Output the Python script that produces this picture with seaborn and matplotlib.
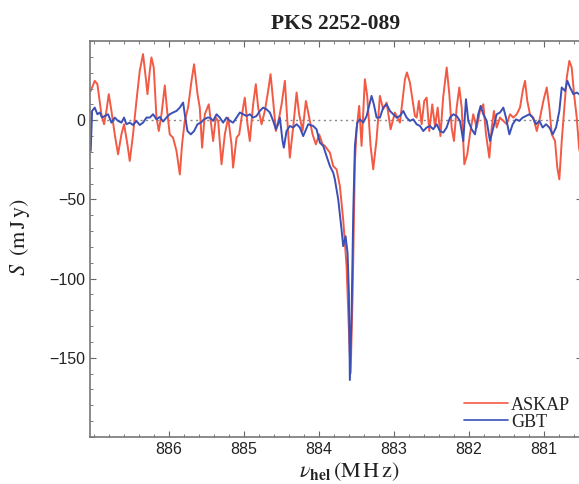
import numpy as np
import pandas as pd
import seaborn as sns
import matplotlib.pyplot as plt
from matplotlib.ticker import MultipleLocator

# --- data (frequency in MHz, flux in mJy) ---
askap_freq = [887.040, 886.987, 886.951, 886.898, 886.862, 886.831, 886.800, 886.764, 886.720, 886.676,
              886.631, 886.596, 886.551, 886.520, 886.476, 886.431, 886.387, 886.343, 886.307, 886.284,
              886.253, 886.231, 886.200, 886.164, 886.133, 886.097, 886.053, 886.020, 885.987, 885.943,
              885.897, 885.853, 885.823, 885.787, 885.743, 885.697, 885.663, 885.617, 885.587, 885.556,
              885.520, 885.467, 885.409, 885.373, 885.342, 885.297, 885.253, 885.209, 885.164, 885.143,
              885.097, 885.062, 885.017, 884.987, 884.951, 884.920, 884.876, 884.840, 884.809, 884.764,
              884.720, 884.676, 884.644, 884.609, 884.573, 884.529, 884.497, 884.453, 884.423, 884.387,
              884.343, 884.297, 884.263, 884.217, 884.173, 884.129, 884.084, 884.040, 883.996, 883.951,
              883.920, 883.853, 883.809, 883.764, 883.720, 883.676, 883.631, 883.600, 883.577, 883.551,
              883.520, 883.497, 883.463, 883.431, 883.387, 883.356, 883.311, 883.276, 883.231, 883.187,
              883.143, 883.097, 883.044, 882.987, 882.920, 882.853, 882.827, 882.787, 882.720, 882.697,
              882.667, 882.631, 882.596, 882.564, 882.529, 882.489, 882.453, 882.417, 882.380, 882.345,
              882.297, 882.262, 882.231, 882.200, 882.164, 882.129, 882.097, 882.062, 882.023, 881.987,
              881.943, 881.897, 881.853, 881.809, 881.773, 881.729, 881.697, 881.667, 881.631, 881.587,
              881.543, 881.497, 881.453, 881.409, 881.364, 881.320, 881.284, 881.253, 881.223, 881.187,
              881.143, 881.097, 881.053, 881.009, 880.964, 880.929, 880.897, 880.853, 880.823, 880.796,
              880.764, 880.733, 880.697, 880.663, 880.631, 880.600, 880.564, 880.533, 880.500]
askap_flux = [18.5, 24.9, 22.8, 3.8, -2.5, 5.9, 16.5, 5.9, -8.9, -21.5,
              -8.9, -2.5, -15.2, -25.7, -8.9, 12.2, 31.2, 41.8, 27.0, 16.5,
              31.2, 39.7, 33.3, 1.7, -6.8, 3.8, 22.0, 5.0, -8.9, -11.0,
              -19.4, -34.2, -15.2, -0.4, 8.0, 24.9, 35.4, 16.5, 8.0, -17.3,
              3.8, 10.1, -13.1, 1.7, -0.4, -27.8, -8.9, 1.7, -15.2, -29.9,
              -11.0, -8.9, 5.9, 14.3, -2.5, -13.1, 10.1, 22.8, 8.0, -2.5,
              5.9, 18.5, 29.1, 12.2, -6.8, 1.7, 10.1, 24.9, 1.7, -23.6,
              -4.6, 17.5, 3.8, -6.8, 12.2, 1.7, -8.9, -15.2, -8.9, -15.2,
              -16.2, -20.5, -28.9, -31.0, -41.6, -62.7, -92.2, -132.3, -159.7, -111.2,
              -26.8, -5.7, 9.1, -16.2, 25.9, 15.4, -16.2, -31.0, -12.0, 15.4,
              7.0, 11.2, -5.7, 4.9, -1.5, 25.9, 30.2, 23.8, 2.7, 1.7,
              12.2, -2.5, 12.2, 14.3, -6.8, 10.0, -4.0, 8.0, -10.0, 14.0,
              33.3, 16.5, -4.6, -13.1, 8.0, 20.7, 8.0, -27.8, -21.5, -8.9,
              3.8, -4.6, 5.9, 10.1, -8.9, -23.6, -4.6, 5.9, -4.6, 1.7,
              -0.4, -2.5, 3.8, 1.7, 3.8, 8.0, 18.5, 24.9, 12.2, 3.8,
              1.7, -6.8, 1.7, 12.2, 20.7, 8.0, -8.9, -13.1, -29.9, -37.3,
              -13.1, 5.9, 27.0, 37.5, 33.3, 16.5, 1.7, -17.3, -26.0]

gbt_freq = [887.040, 887.022, 886.987, 886.951, 886.920, 886.889, 886.853, 886.809, 886.764, 886.720,
            886.676, 886.631, 886.596, 886.564, 886.520, 886.476, 886.431, 886.387, 886.343, 886.297,
            886.253, 886.209, 886.164, 886.120, 886.076, 886.031, 885.987, 885.943, 885.897, 885.853,
            885.809, 885.787, 885.751, 885.707, 885.663, 885.617, 885.573, 885.529, 885.484, 885.453,
            885.409, 885.364, 885.320, 885.276, 885.231, 885.187, 885.143, 885.097, 885.053, 885.009,
            884.964, 884.920, 884.876, 884.831, 884.787, 884.743, 884.697, 884.653, 884.609, 884.573,
            884.543, 884.520, 884.484, 884.467, 884.431, 884.387, 884.343, 884.297, 884.253, 884.209,
            884.142, 884.076, 884.031, 883.987, 883.942, 883.898, 883.853, 883.809, 883.787, 883.742,
            883.698, 883.676, 883.644, 883.618, 883.600, 883.587, 883.564, 883.542, 883.520, 883.489,
            883.453, 883.409, 883.364, 883.320, 883.298, 883.267, 883.231, 883.187, 883.143, 883.098,
            883.053, 883.009, 882.964, 882.920, 882.876, 882.831, 882.787, 882.742, 882.698, 882.653,
            882.609, 882.564, 882.520, 882.476, 882.431, 882.387, 882.342, 882.298, 882.253, 882.209,
            882.164, 882.120, 882.076, 882.040, 882.009, 881.964, 881.920, 881.876, 881.844, 881.809,
            881.764, 881.720, 881.676, 881.631, 881.587, 881.542, 881.507, 881.462, 881.418, 881.373,
            881.329, 881.284, 881.240, 881.196, 881.151, 881.107, 881.062, 881.018, 880.973, 880.929,
            880.884, 880.840, 880.796, 880.764, 880.720, 880.689, 880.653, 880.609, 880.564, 880.533,
            880.500]
gbt_flux = [-19.4, 5.9, 8.0, 3.8, 4.9, 1.7, 2.7, 3.8, -1.5, 1.7,
            -0.4, -1.5, 1.7, -2.5, -1.5, -3.0, -0.4, -3.0, -1.5, 1.7,
            1.7, 3.8, 0.6, 2.1, -0.8, 1.7, 3.8, 4.9, 5.9, 8.0,
            11.2, 3.8, -6.8, -8.9, -6.8, -2.5, -1.5, 0.6, 1.7, 1.7,
            -0.4, 3.8, 1.7, -1.5, 1.7, -0.4, -1.5, 1.7, 4.9, 3.8,
            2.7, 3.8, 1.7, 2.7, 5.9, 8.0, 6.9, 4.9, -0.4, -5.7,
            -2.5, 1.7, -13.1, -17.3, -6.8, -3.6, -4.6, -2.5, -4.6, -10.0,
            -2.5, -3.6, -5.7, -14.1, -16.2, -22.6, -28.9, -33.1, -37.3, -50.0,
            -69.0, -79.5, -73.2, -83.7, -109.1, -164.0, -121.7, -58.4, -16.2, -1.5,
            0.6, -1.5, 2.7, 11.2, 15.4, 10.0, 1.7, 1.7, 8.0, 10.1,
            5.9, 3.8, 1.7, 2.7, 5.9, 1.7, -0.4, 0.6, -2.5, -3.6,
            -6.8, -4.6, -3.6, -5.7, -2.5, -6.8, -7.8, -4.6, 1.7, 3.8,
            2.7, -0.4, -13.1, 13.3, -0.4, -5.7, -8.9, 3.8, 9.1, 3.8,
            -0.4, -13.1, -4.6, 3.8, 4.9, 8.0, 1.7, -8.9, -2.5, 0.6,
            -0.4, 1.7, 2.7, 3.8, 1.7, -2.5, -0.4, -4.6, -2.5, -4.6,
            -8.9, -4.6, 5.9, 20.7, 18.5, 24.9, 20.7, 16.5, 17.5, 16.5,
            15.0]

series_names = ['ASKAP', 'GBT']
series_colors = ['#f25a44', '#3b50b6']

askap = pd.DataFrame({'freq': askap_freq, 'flux': askap_flux, 'telescope': 'ASKAP'})
gbt = pd.DataFrame({'freq': gbt_freq, 'flux': gbt_flux, 'telescope': 'GBT'})
df = pd.concat([askap, gbt], ignore_index=True)

sns.set_style('ticks')
plt.rcParams['font.family'] = ['Liberation Sans', 'DejaVu Sans']
plt.rcParams['mathtext.fontset'] = 'stix'

fig = plt.figure(figsize=(5.79, 4.84), dpi=100)
ax = fig.add_axes([0.1554, 0.0971, 0.849, 0.818])

ax.axhline(0, color='#888888', lw=1.0, ls=(0, (1.5, 2.5)), zorder=1)
sns.lineplot(data=df, x='freq', y='flux', hue='telescope', hue_order=series_names,
             palette=series_colors, estimator=None, sort=False, lw=1.4, ax=ax)

ax.set_xlim(887.05, 880.5)
ax.set_ylim(-200, 50)
ax.set_xticks([886, 885, 884, 883, 882, 881])
ax.set_yticks([0, -50, -100, -150])
ax.xaxis.set_minor_locator(MultipleLocator(0.2))
ax.yaxis.set_minor_locator(MultipleLocator(10))
ax.tick_params(which='both', direction='in', top=True, right=True, colors='#666666',
               labelcolor='#222222', labelsize=11.5)
ax.tick_params(which='major', length=4, width=0.8)
ax.tick_params(which='minor', length=2.5, width=0.6)
for sp in ax.spines.values():
    sp.set_color('#777777')
    sp.set_linewidth(1.2)

ax.set_title('PKS 2252-089', fontsize=15.5, family='Liberation Serif', fontweight='bold',
             color='#222222', pad=9)
ax.set_xlabel(r'$\nu_{\mathbf{hel}}\,(\mathrm{M\,H\,z})$', fontsize=16, color='#222222')
ax.xaxis.set_label_coords(0.527, -0.058)
ax.set_ylabel(r'$S\;\;(\mathrm{m\,J\,y})$', fontsize=16, color='#222222')
ax.yaxis.set_label_coords(-0.118, 0.505)

leg = ax.legend(loc='lower left', bbox_to_anchor=(0.802, 0.110), bbox_transform=fig.transFigure,
                frameon=False, prop={'family': 'Liberation Serif', 'size': 13},
                handlelength=2.4, handletextpad=0.2, labelspacing=0.0,
                borderaxespad=0.0, borderpad=0.0)
for line in leg.get_lines():
    line.set_linewidth(1.2)
for txt in leg.get_texts():
    txt.set_color('#222222')

fig.savefig('out.png', dpi=100)
